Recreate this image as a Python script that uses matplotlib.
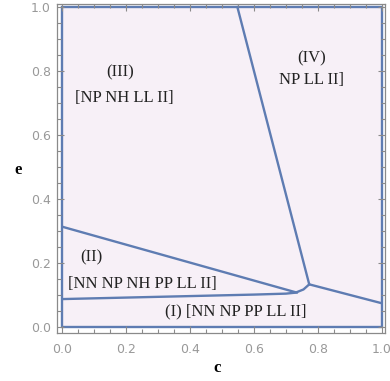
import matplotlib
matplotlib.use("Agg")
import matplotlib.pyplot as plt
from matplotlib.patches import Rectangle
from matplotlib.ticker import MultipleLocator

# boundary curves of the regions (c, e)
lower_c = [0.0, 0.3, 0.6, 0.70, 0.73, 0.755, 0.773]
lower_e = [0.087, 0.094, 0.101, 0.104, 0.107, 0.117, 0.133]
upper_c = [0.0, 0.735]
upper_e = [0.313, 0.107]
steep_c = [0.548, 0.773]
steep_e = [1.0, 0.133]
right_c = [0.773, 1.0]
right_e = [0.133, 0.074]

labels = ["(III)", "[NP NH LL II]", "(IV)", "NP LL II]", "(II)",
          "[NN NP NH PP LL II]", "(I) [NN NP PP LL II]"]
label_c = [0.18, 0.195, 0.78, 0.78, 0.092, 0.017, 0.32]
label_e = [0.794, 0.716, 0.84, 0.77, 0.217, 0.133, 0.047]
label_ha = ["center", "center", "center", "center", "center", "left", "left"]

ticks = [0.0, 0.2, 0.4, 0.6, 0.8, 1.0]
tick_labels = ["0.0", "0.2", "0.4", "0.6", "0.8", "1.0"]

fill = "#F7F0F7"
edge = "#5E7CB2"
frame = "#8a8a8a"

fig = plt.figure(figsize=(3.9, 3.81), dpi=100)
ax = fig.add_axes([0.145, 0.126, 0.842, 0.8635])
ax.set_xlim(-0.018, 1.01)
ax.set_ylim(-0.019, 1.009)

ax.add_patch(Rectangle((0, 0), 1, 1, facecolor=fill, edgecolor=edge, lw=1.7, zorder=1))
for xs, ys in [(lower_c, lower_e), (upper_c, upper_e), (steep_c, steep_e), (right_c, right_e)]:
    ax.plot(xs, ys, color=edge, lw=1.7, solid_capstyle="round", solid_joinstyle="round", zorder=2)

for t, x, y, ha in zip(labels, label_c, label_e, label_ha):
    ax.text(x, y, t, ha=ha, va="center", fontsize=12, family="Liberation Serif", color="#222222", zorder=3)

ax.set_xticks(ticks)
ax.set_xticklabels(tick_labels)
ax.set_yticks(ticks)
ax.set_yticklabels(tick_labels)
ax.xaxis.set_minor_locator(MultipleLocator(0.05))
ax.yaxis.set_minor_locator(MultipleLocator(0.05))
ax.tick_params(which="both", direction="in", top=True, right=True, color=frame, width=0.8,
               labelcolor="#999999", labelsize=9)
ax.tick_params(which="major", length=5)
ax.tick_params(which="minor", length=3)
ax.tick_params(axis="x", pad=7)
ax.tick_params(axis="y", pad=4)
for s in ax.spines.values():
    s.set_color(frame)
    s.set_linewidth(0.9)

ax.text(-0.118, 0.495, "e", transform=ax.transAxes, ha="center", va="center",
        fontsize=12, fontweight="bold", family="Liberation Serif")
ax.text(0.488, -0.106, "c", transform=ax.transAxes, ha="center", va="center",
        fontsize=12, fontweight="bold", family="Liberation Serif")

fig.savefig("out.png", dpi=100)
